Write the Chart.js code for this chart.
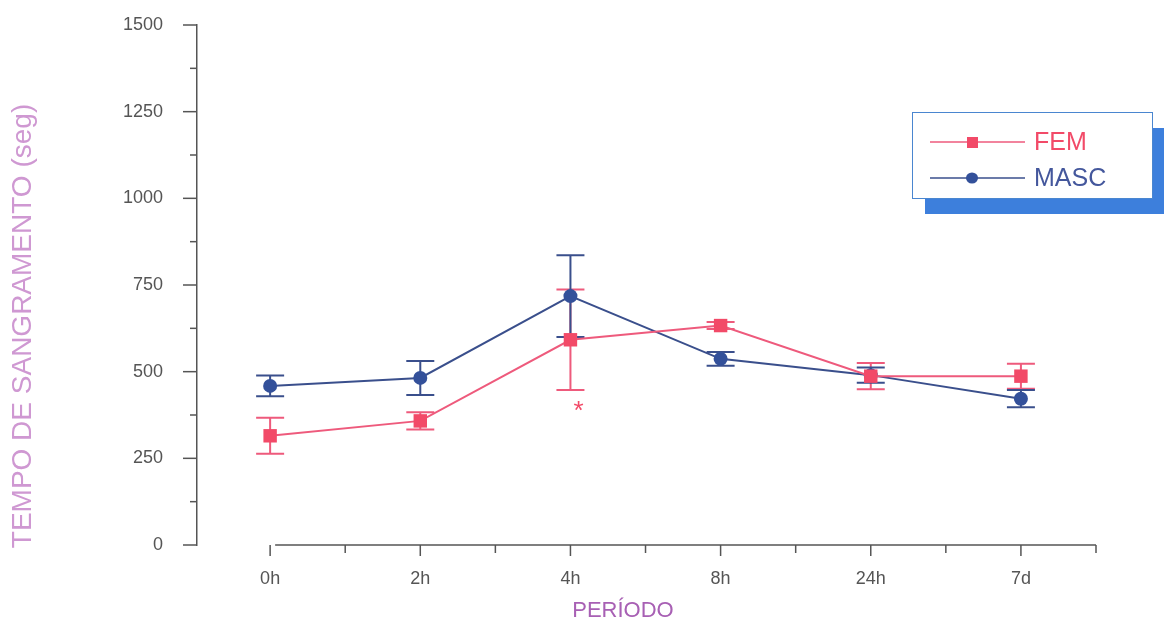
<!DOCTYPE html>
<html><head><meta charset="utf-8">
<script src="https://cdn.jsdelivr.net/npm/chart.js@4.4.1/dist/chart.umd.min.js"></script>
<style>html,body{margin:0;padding:0;background:#fff;}#wrap{position:relative;width:1164px;height:631px;}</style>
</head><body><div id="wrap"><canvas id="c" width="1164" height="631"></canvas></div>
<script>
const categories = ['0h', '2h', '4h', '8h', '24h', '7d'];
const femLabel = 'FEM';
const mascLabel = 'MASC';
const femMean = [315, 358, 592, 633, 487, 487];
const femErr = [52, 25, 145, 10, 38, 36];
const mascMean = [459, 482, 718, 537, 490, 422];
const mascErr = [30, 49, 118, 20, 22, 25];
const yTickValues = [0, 250, 500, 750, 1000, 1250, 1500];
const yMinorStep = 125;
const xTitle = 'PERÍODO';
const yTitle = 'TEMPO DE SANGRAMENTO (seg)';
const markIndex = 2; // asterisk under 4h FEM

const RED = '#f24a68';
const RED_LINE = '#ee5a7c';
const BLUE = '#33509a';
const BLUE_LINE = '#3a4f8c';
const AXIS = '#555555';
const FONT = "'Liberation Sans', Arial, sans-serif";

const femPts = femMean.map((v, i) => ({x: i, y: v}));
const mascPts = mascMean.map((v, i) => ({x: i, y: v}));

const decor = {
  id: 'decor',
  beforeDatasetsDraw(chart) {
    const {ctx, chartArea, scales: {x, y}} = chart;
    ctx.save();
    ctx.strokeStyle = AXIS;
    ctx.lineWidth = 1.5;
    ctx.beginPath();
    ctx.moveTo(x.getPixelForValue(0) + 5, chartArea.bottom);
    ctx.lineTo(x.getPixelForValue(5.5), chartArea.bottom);
    ctx.stroke();
    for (let k = 0; k <= 11; k++) {
      const px = x.getPixelForValue(k / 2);
      const len = (k % 2 === 0) ? 11 : 8;
      ctx.beginPath();
      ctx.moveTo(px, chartArea.bottom);
      ctx.lineTo(px, chartArea.bottom + len);
      ctx.stroke();
    }
    for (let v = 0; v <= 1500; v += yMinorStep) {
      const py = y.getPixelForValue(v);
      const len = (v % 250 === 0) ? 14 : 7;
      ctx.beginPath();
      ctx.moveTo(chartArea.left - len, py);
      ctx.lineTo(chartArea.left, py);
      ctx.stroke();
    }
    const drawErr = (means, errs, color) => {
      ctx.strokeStyle = color;
      ctx.lineWidth = 2;
      means.forEach((m, i) => {
        const px = x.getPixelForValue(i);
        const top = y.getPixelForValue(m + errs[i]);
        const bot = y.getPixelForValue(m - errs[i]);
        ctx.beginPath();
        ctx.moveTo(px, top); ctx.lineTo(px, bot);
        ctx.moveTo(px - 14, top); ctx.lineTo(px + 14, top);
        ctx.moveTo(px - 14, bot); ctx.lineTo(px + 14, bot);
        ctx.stroke();
      });
    };
    drawErr(femMean, femErr, RED_LINE);
    drawErr(mascMean, mascErr, BLUE_LINE);
    ctx.restore();
  },
  afterDraw(chart) {
    const {ctx, scales: {x, y}} = chart;
    ctx.save();
    ctx.fillStyle = RED;
    ctx.font = '26px ' + FONT;
    ctx.textAlign = 'center';
    ctx.textBaseline = 'middle';
    ctx.fillText('*', x.getPixelForValue(markIndex) + 8, y.getPixelForValue(femMean[markIndex] - femErr[markIndex]) + 22);
    ctx.fillStyle = '#a860b4';
    ctx.font = '22px ' + FONT;
    ctx.fillText(xTitle, 623, 611);
    ctx.save();
    ctx.translate(23, 326);
    ctx.rotate(-Math.PI / 2);
    ctx.fillStyle = '#cf98d2';
    ctx.font = '28px ' + FONT;
    ctx.fillText(yTitle, 0, 0);
    ctx.restore();
    const lx = 912, ly = 112, lw = 240, lh = 86;
    ctx.fillStyle = '#3d7fdc';
    ctx.fillRect(lx + 13, ly + 16, lw, lh);
    ctx.fillStyle = '#ffffff';
    ctx.fillRect(lx, ly, lw, lh);
    ctx.strokeStyle = '#4a86d0';
    ctx.lineWidth = 1;
    ctx.strokeRect(lx + 0.5, ly + 0.5, lw, lh);
    const rows = [
      {label: femLabel, color: RED, line: RED_LINE, y: ly + 30, shape: 'rect', text: RED},
      {label: mascLabel, color: BLUE, line: BLUE_LINE, y: ly + 66, shape: 'circle', text: '#44579c'}
    ];
    rows.forEach(r => {
      ctx.strokeStyle = r.line;
      ctx.lineWidth = 1.5;
      ctx.beginPath();
      ctx.moveTo(lx + 18, r.y); ctx.lineTo(lx + 113, r.y);
      ctx.stroke();
      ctx.fillStyle = r.color;
      if (r.shape === 'rect') {
        ctx.fillRect(lx + 55, r.y - 5, 11, 11);
      } else {
        ctx.beginPath();
        ctx.ellipse(lx + 60, r.y, 6, 5.5, 0, 0, Math.PI * 2);
        ctx.fill();
      }
      ctx.font = '25px ' + FONT;
      ctx.textAlign = 'left';
      ctx.textBaseline = 'middle';
      ctx.fillStyle = r.text;
      ctx.fillText(r.label, lx + 122, r.y + 1);
    });
    ctx.restore();
  }
};

new Chart(document.getElementById('c'), {
  type: 'line',
  data: {
    datasets: [
      {label: femLabel, data: femPts, borderColor: RED_LINE, backgroundColor: RED, pointBackgroundColor: RED, pointBorderColor: RED,
        pointStyle: 'rect', pointRadius: 9.5, pointBorderWidth: 0, borderWidth: 2, tension: 0},
      {label: mascLabel, data: mascPts, borderColor: BLUE_LINE, backgroundColor: BLUE, pointBackgroundColor: BLUE, pointBorderColor: BLUE,
        pointStyle: 'circle', pointRadius: 7, pointBorderWidth: 0, borderWidth: 2, tension: 0}
    ]
  },
  options: {
    responsive: false,
    animation: false,
    devicePixelRatio: 1,
    clip: false,
    layout: {autoPadding: false, padding: {left: 0, top: 25, right: 68, bottom: 0}},
    plugins: {legend: {display: false}, tooltip: {enabled: false}},
    scales: {
      x: {
        type: 'linear', min: -0.487, max: 5.5,
        grid: {display: false, drawTicks: false}, border: {display: false},
        afterBuildTicks: s => { s.ticks = categories.map((_, i) => ({value: i})); },
        afterFit: s => { s.height = 86; s.paddingLeft = 0; s.paddingRight = 0; },
        ticks: {callback: v => categories[v] ?? '', color: '#555', font: {family: FONT, size: 18}, padding: 23, maxRotation: 0, autoSkip: false}
      },
      y: {
        min: 0, max: 1500,
        grid: {display: false, drawTicks: false}, border: {display: true, color: AXIS, width: 1.5},
        afterBuildTicks: s => { s.ticks = yTickValues.map(v => ({value: v})); },
        afterFit: s => { s.width = 197; s.paddingTop = 0; s.paddingBottom = 0; },
        ticks: {callback: v => String(v), color: '#555', font: {family: FONT, size: 18}, padding: 34}
      }
    }
  },
  plugins: [decor]
});
</script></body></html>
